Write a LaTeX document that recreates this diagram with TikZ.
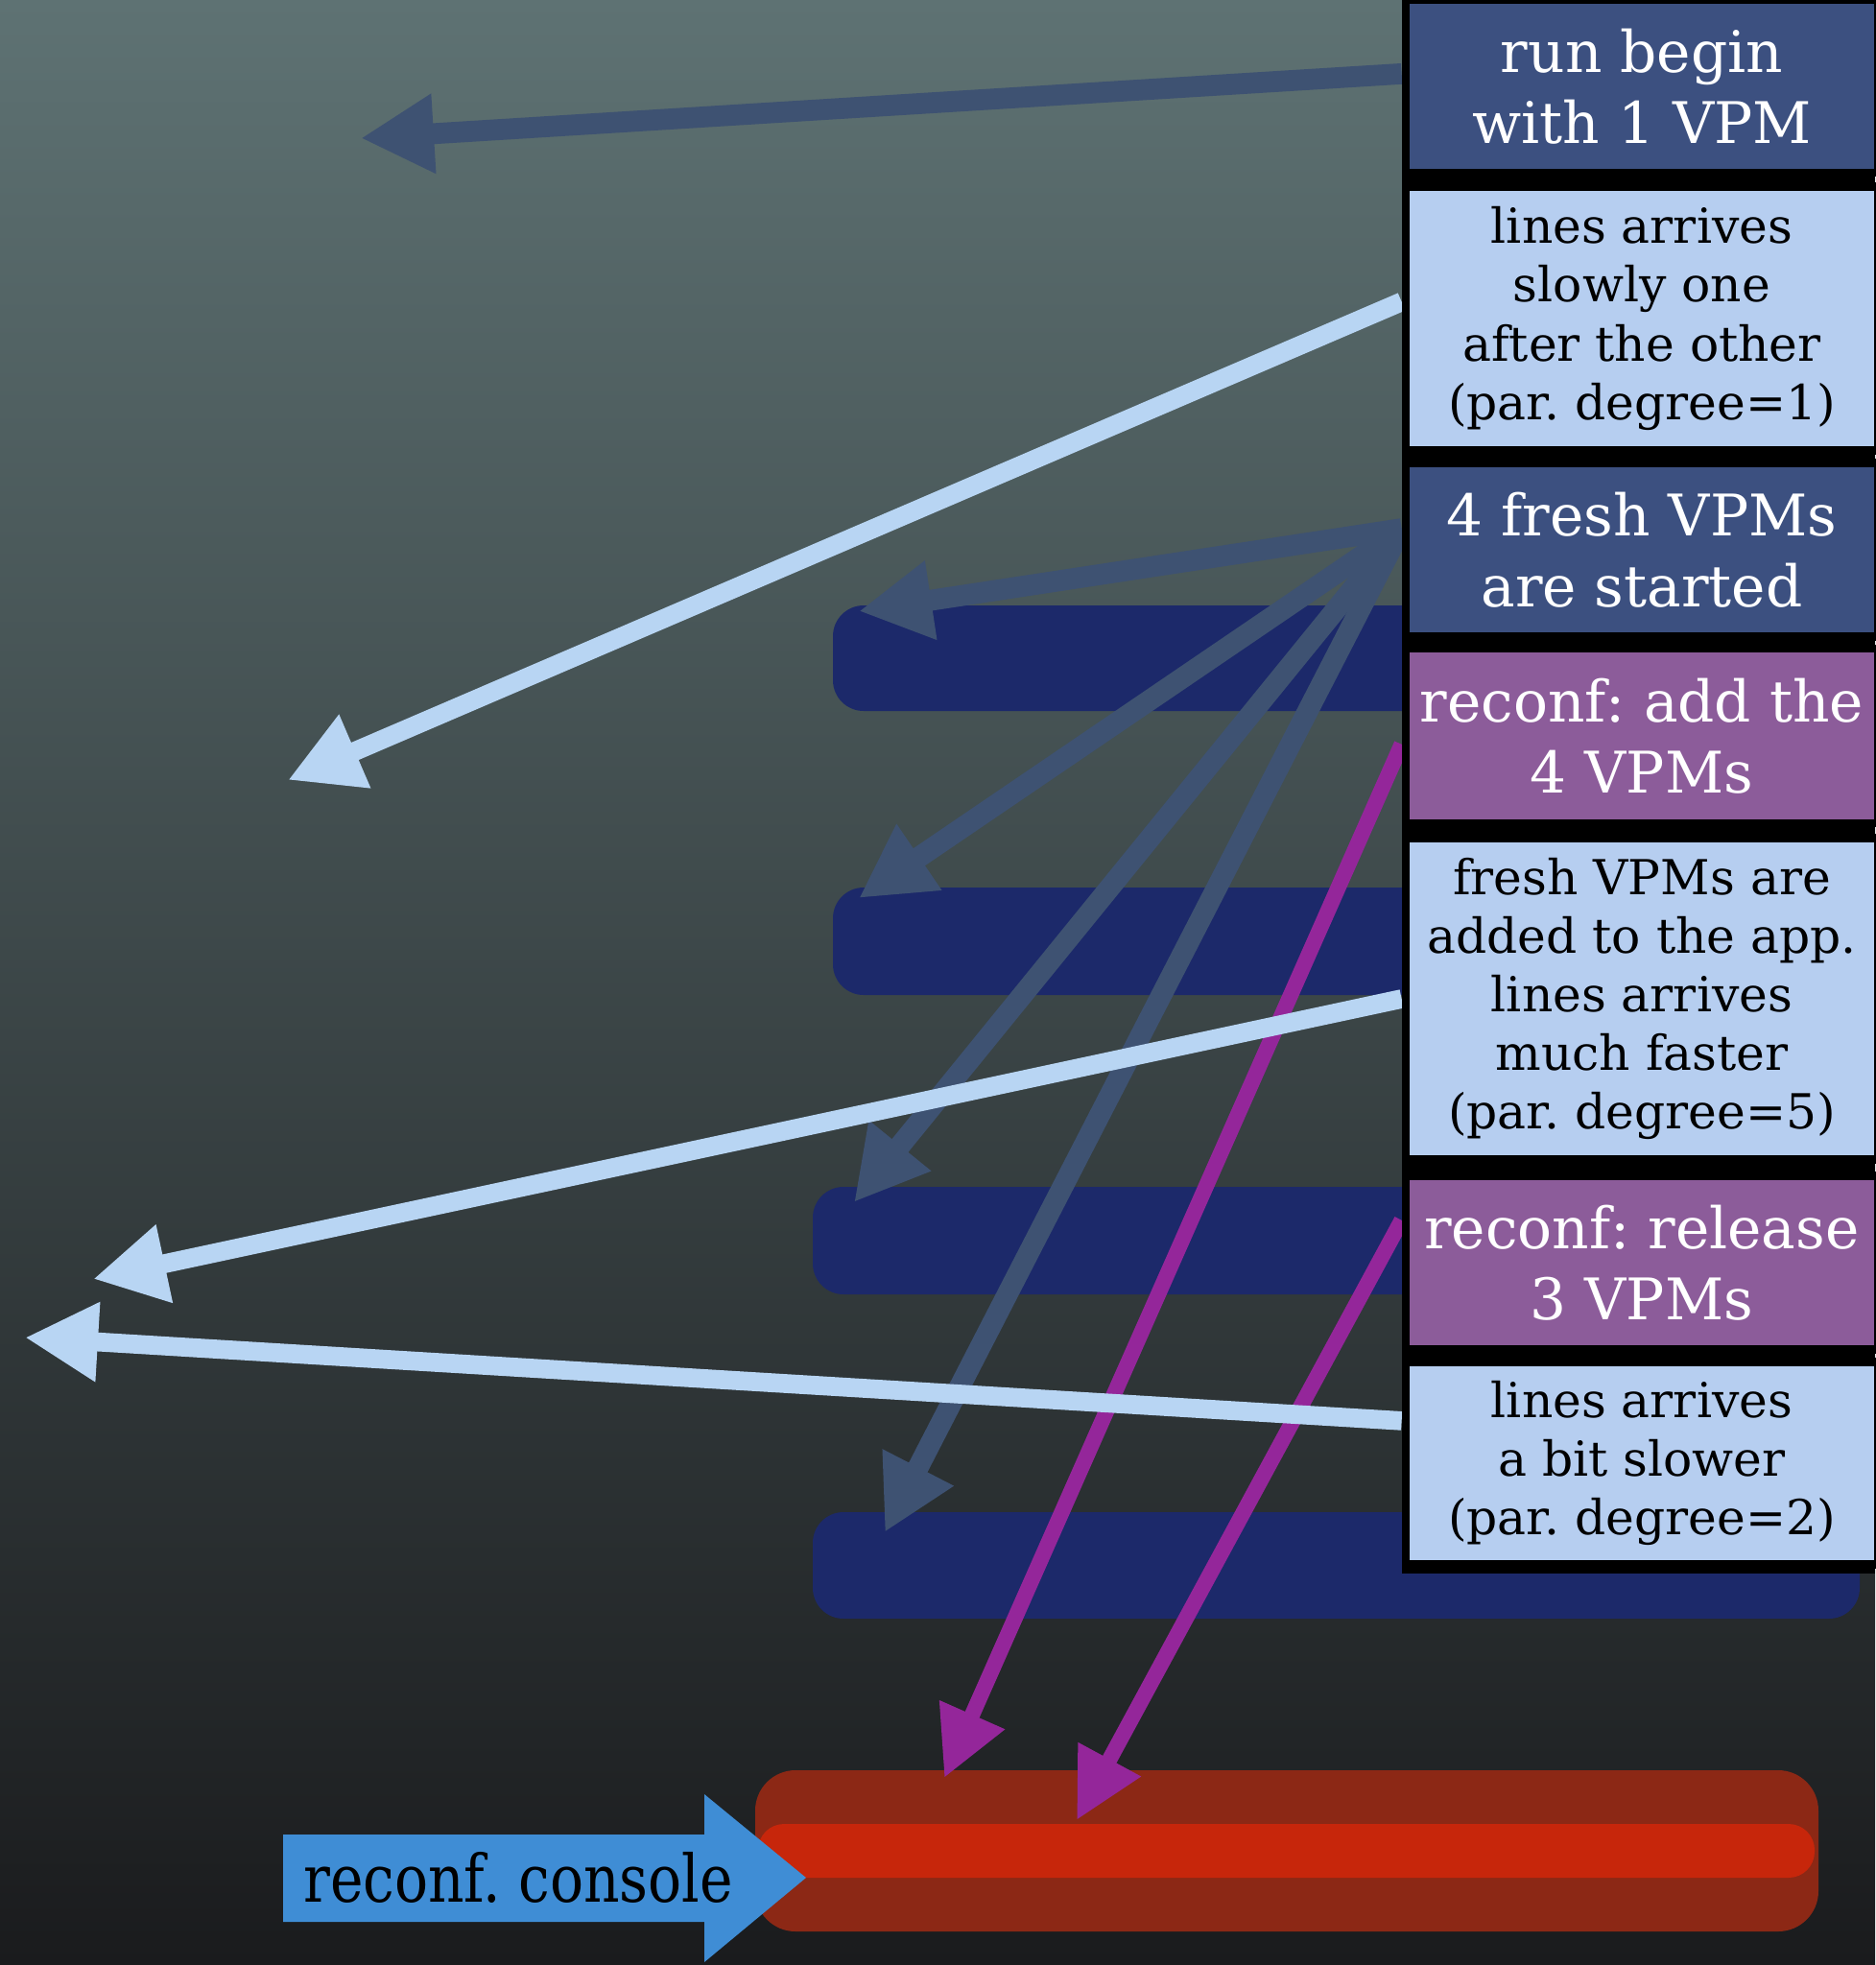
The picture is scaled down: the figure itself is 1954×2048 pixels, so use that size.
\documentclass[tikz,border=0pt]{standalone}
\usepackage{fontspec}
\setmainfont{DejaVu Serif}
\newfontfamily\consollefont[FakeStretch=0.85]{DejaVu Serif}
\usetikzlibrary{arrows.meta, positioning, calc}

\definecolor{sfondoalto}{HTML}{5E7273}
\definecolor{sfondomezzo}{HTML}{3A4245}
\definecolor{sfondobasso}{HTML}{1A1B1D}
\definecolor{boxscuro}{HTML}{3C5080}
\definecolor{boxchiaro}{HTML}{B6CEF0}
\definecolor{boxviola}{HTML}{8C5C9A}
\definecolor{barrablu}{HTML}{1C296A}
\definecolor{frecciascura}{HTML}{3E5272}
\definecolor{frecciachiara}{HTML}{B8D5F3}
\definecolor{frecciaviola}{HTML}{94269A}
\definecolor{rossoscuro}{HTML}{8C2815}
\definecolor{rossovivo}{HTML}{C7260B}
\definecolor{consolle}{HTML}{3F8DD5}

\newcommand{\testogrande}{\fontsize{17pt}{21pt}\selectfont}
\newcommand{\testopiccolo}{\fontsize{14.3pt}{17.4pt}\selectfont}

\pgfdeclarelayer{fondo}
\pgfdeclarelayer{frecce}
\pgfsetlayers{fondo,frecce,main}

\begin{document}
\frenchspacing
\begin{tikzpicture}[
  x=0.01cm, y=-0.01cm,
  riquadro/.style={draw=black, line width=2.4pt, align=center, inner sep=0pt,
                   minimum width=4.92cm},
  scuro/.style={riquadro, fill=boxscuro, text=white, font=\testogrande},
  chiaro/.style={riquadro, fill=boxchiaro, text=black, font=\testopiccolo},
  viola/.style={riquadro, fill=boxviola, text=white, font=\testogrande},
  barra/.style={fill=barrablu, rounded corners=0.32cm},
  freccia/.style={line width=6.2pt, -{Triangle[length=0.76cm, width=0.78cm]}},
  fscura/.style={freccia, draw=frecciascura},
  fchiara/.style={freccia, line width=5.6pt, draw=frecciachiara},
  fviola/.style={line width=4.6pt, draw=frecciaviola,
                 -{Triangle[length=0.72cm, width=0.70cm]}}
]

\useasboundingbox (0,0) rectangle (1954,2048);

% ---- sfondo, barre e console ---------------------------------------
\begin{pgfonlayer}{fondo}
  \shade[top color=sfondoalto, middle color=sfondomezzo, bottom color=sfondobasso]
    (0,0) rectangle (1954,2048);

  % barre dei VPM
  \fill[barra] (868,631)  rectangle (1520,741);
  \fill[barra] (868,925)  rectangle (1520,1037);
  \fill[barra] (847,1237) rectangle (1520,1349);
  \fill[barra] (847,1576) rectangle (1938,1687);

  % barra rossa della console
  \fill[rossoscuro, rounded corners=0.42cm] (787,1845) rectangle (1895,2013);
  \fill[rossovivo, rounded corners=0.27cm]  (790,1901) rectangle (1891,1957);

  % freccia della console
  \fill[consolle] (295,1912) -- (734,1912) -- (734,1870) -- (840,1957)
                  -- (734,2045) -- (734,2003) -- (295,2003) -- cycle;
  \node[font=\consollefont\fontsize{19.5pt}{22pt}\selectfont, text=black]
    (console) at (540,1957) {reconf. console};
\end{pgfonlayer}

% ---- colonna dei riquadri ------------------------------------------
\fill[black] (1461,0) rectangle (1954,1640);

\node[scuro,  minimum height=1.80cm] (inizio)   at (1711,90)   {run begin\\with 1 VPM};
\node[chiaro, minimum height=2.75cm] (lenta)    at (1711,332)  {lines arrives\\slowly one\\after the other\\(par. degree=1)};
\node[scuro,  minimum height=1.81cm] (avvio)    at (1711,573)  {4 fresh VPMs\\are started};
\node[viola,  minimum height=1.82cm] (aggiunta) at (1711,767)  {reconf: add the\\4 VPMs};
\node[chiaro, minimum height=3.35cm] (veloce)   at (1711,1041) {fresh VPMs are\\added to the app.\\lines arrives\\much faster\\(par. degree=5)};
\node[viola,  minimum height=1.81cm] (rilascio) at (1711,1316) {reconf: release\\3 VPMs};
\node[chiaro, minimum height=2.11cm] (media)    at (1711,1525) {lines arrives\\a bit slower\\(par. degree=2)};

% ---- punte delle frecce --------------------------------------------
\coordinate (puntaInizio) at (376,144);
\coordinate (puntaLenta)  at (300,813);
\coordinate (puntaV1)     at (895,637);
\coordinate (puntaV2)     at (895,936);
\coordinate (puntaV3)     at (890,1253);
\coordinate (puntaV4)     at (922,1597);
\coordinate (puntaAgg)    at (984,1853);
\coordinate (puntaRil)    at (1122,1897);
\coordinate (puntaVeloce) at (97,1333);
\coordinate (puntaMedia)  at (26,1394);

% ---- frecce --------------------------------------------------------
\begin{pgfonlayer}{frecce}
  \draw[fscura] (inizio.177) -- (puntaInizio);
  \foreach \p in {puntaV1, puntaV2, puntaV3, puntaV4}
    \draw[fscura] (avvio.175) -- (\p);
  \draw[fviola] (aggiunta.182) -- (puntaAgg);
  \draw[fviola] (rilascio.170) -- (puntaRil);
  \draw[fchiara] (lenta.176) -- (puntaLenta);
  \draw[fchiara] (veloce.west) -- (puntaVeloce);
  \draw[fchiara] (media.170) -- (puntaMedia);
\end{pgfonlayer}

\end{tikzpicture}
\end{document}
